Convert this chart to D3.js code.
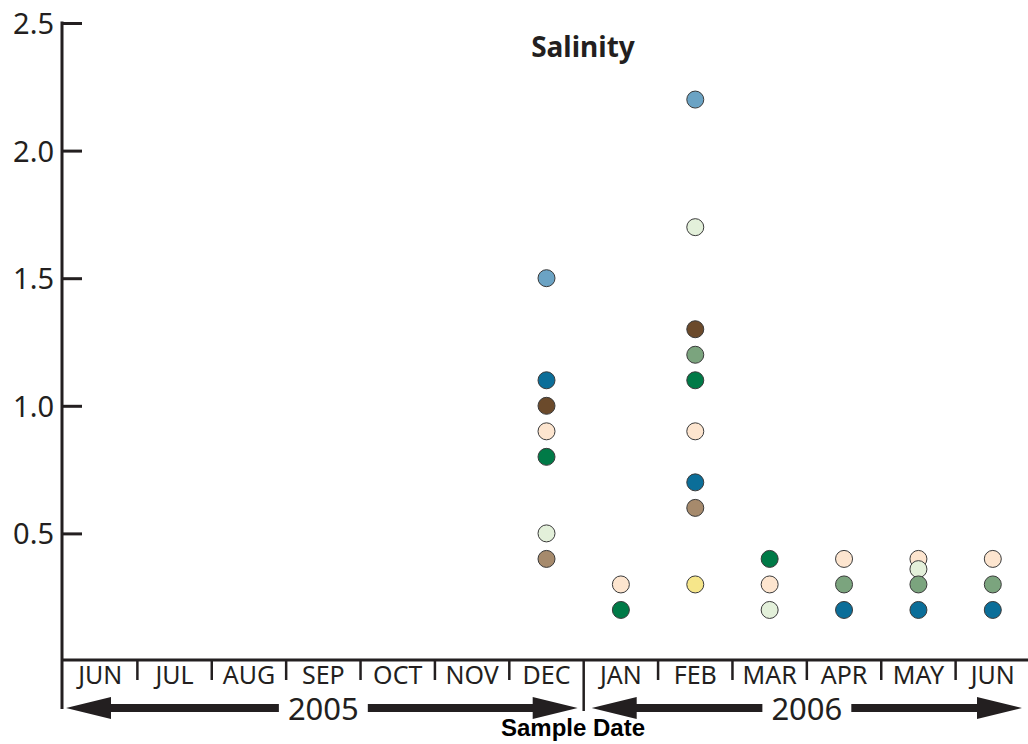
<!DOCTYPE html>
<html>
<head>
<meta charset="utf-8">
<script src="https://cdn.jsdelivr.net/npm/d3@7"></script>
<style>
  body { margin: 0; background: #fff; }
  text { fill: #231f20; }
</style>
</head>
<body>
<div id="chart"></div>
<script>
// month keys (unique) and the label shown under each
var months = ["JUN05", "JUL05", "AUG05", "SEP05", "OCT05", "NOV05", "DEC05",
              "JAN06", "FEB06", "MAR06", "APR06", "MAY06", "JUN06"];
var monthLabels = ["JUN", "JUL", "AUG", "SEP", "OCT", "NOV", "DEC",
                   "JAN", "FEB", "MAR", "APR", "MAY", "JUN"];
var years = ["2005", "2006"];
var yearFirst = ["JUN05", "JAN06"];
var yearLast = ["DEC05", "JUN06"];
var yTicks = [0.5, 1.0, 1.5, 2.0, 2.5];

// salinity per sample site, one value per month (null = no sample)
var lightBlue = [null, null, null, null, null, null, 1.5, null, 2.2, null, null, null, null];
var darkBrown = [null, null, null, null, null, null, 1.0, null, 1.3, null, null, null, null];
var peach     = [null, null, null, null, null, null, 0.9, 0.3, 0.9, 0.3, 0.4, 0.4, 0.4];
var paleGreen = [null, null, null, null, null, null, 0.5, null, 1.7, 0.2, null, 0.36, null];
var sage      = [null, null, null, null, null, null, null, null, 1.2, null, 0.3, 0.3, 0.3];
var green     = [null, null, null, null, null, null, 0.8, 0.2, 1.1, 0.4, null, null, null];
var tealBlue  = [null, null, null, null, null, null, 1.1, null, 0.7, null, 0.2, 0.2, 0.2];
var tan       = [null, null, null, null, null, null, 0.4, null, 0.6, null, null, null, null];
var yellow    = [null, null, null, null, null, null, null, null, 0.3, null, null, null, null];

var series = [
  {values: lightBlue, color: "#6ba3c4"},
  {values: darkBrown, color: "#6b4a2b"},
  {values: peach,     color: "#fde5cf"},
  {values: paleGreen, color: "#e3f0da"},
  {values: sage,      color: "#7ba47e"},
  {values: green,     color: "#007a47"},
  {values: tealBlue,  color: "#0b6e99"},
  {values: tan,       color: "#a68a6c"},
  {values: yellow,    color: "#f6e68a"}
];

var width = 1028,
    height = 744,
    left = 62,
    axisY = 660;

var svg = d3.select("#chart").append("svg")
    .attr("width", width)
    .attr("height", height);

var x = d3.scaleBand()
    .domain(months)
    .range([left + 1, width + 2])
    .padding(0);

var y = d3.scaleLinear()
    .domain([0, 2.5])
    .range([661, 23]);

// title
svg.append("text")
    .attr("x", 583)
    .attr("y", 57)
    .attr("text-anchor", "middle")
    .style("font-family", "'Noto Sans', sans-serif")
    .style("font-weight", "bold")
    .style("font-size", "28px")
    .text("Salinity");

// y axis: ticks pointing inward, labels on the left
var yAxis = d3.axisLeft(y)
    .tickValues(yTicks)
    .tickSize(-20)
    .tickPadding(8)
    .tickFormat(d3.format(".1f"));

var gy = svg.append("g")
    .attr("transform", "translate(" + left + ",0)")
    .call(yAxis);

gy.select(".domain").remove();
gy.selectAll(".tick line")
    .attr("stroke", "#231f20")
    .attr("stroke-width", 3);
gy.selectAll(".tick text")
    .attr("dy", "0.36em")
    .style("font-family", "'Noto Sans', sans-serif")
    .style("font-size", "29px")
    .style("fill", "#231f20");

svg.append("line")
    .attr("x1", left).attr("x2", left)
    .attr("y1", y(2.5) - 1.5).attr("y2", 709)
    .attr("stroke", "#231f20")
    .attr("stroke-width", 3);

// x axis line
svg.append("line")
    .attr("x1", left).attr("x2", width)
    .attr("y1", axisY).attr("y2", axisY)
    .attr("stroke", "#231f20")
    .attr("stroke-width", 3);

// month dividers
svg.selectAll(".divider")
    .data(months.slice(1))
  .enter().append("line")
    .attr("class", "divider")
    .attr("x1", function(d) { return x(d); })
    .attr("x2", function(d) { return x(d); })
    .attr("y1", axisY)
    .attr("y2", function(d) { return yearFirst.indexOf(d) >= 0 ? 711 : 680; })
    .attr("stroke", "#231f20")
    .attr("stroke-width", 2.5);

// month labels
svg.selectAll(".month")
    .data(months)
  .enter().append("text")
    .attr("class", "month")
    .attr("x", function(d) { return x(d) + x.bandwidth() / 2; })
    .attr("y", 684)
    .attr("text-anchor", "middle")
    .style("font-family", "'Noto Sans', sans-serif")
    .style("font-size", "25px")
    .text(function(d, i) { return monthLabels[i]; });

// year arrows
var head = 45, half = 11, thick = 8, arrowY = 708;

years.forEach(function(yr, i) {
  var x0 = x(yearFirst[i]) + (i === 0 ? 3 : 8),
      x1 = x(yearLast[i]) + x.bandwidth() - (i === 0 ? 6 : 8),
      cx = (x(yearFirst[i]) + x(yearLast[i]) + x.bandwidth()) / 2;

  var t = svg.append("text")
      .attr("x", cx)
      .attr("y", 720)
      .attr("text-anchor", "middle")
      .style("font-family", "'Noto Sans', sans-serif")
      .style("font-size", "31px")
      .text(yr);

  var w = t.node().getComputedTextLength() / 2 + 9;

  var path = d3.path();
  // left arrow
  path.moveTo(x0, arrowY);
  path.lineTo(x0 + head, arrowY - half);
  path.lineTo(x0 + head, arrowY - thick / 2);
  path.lineTo(cx - w, arrowY - thick / 2);
  path.lineTo(cx - w, arrowY + thick / 2);
  path.lineTo(x0 + head, arrowY + thick / 2);
  path.lineTo(x0 + head, arrowY + half);
  path.closePath();
  // right arrow
  path.moveTo(x1, arrowY);
  path.lineTo(x1 - head, arrowY - half);
  path.lineTo(x1 - head, arrowY - thick / 2);
  path.lineTo(cx + w, arrowY - thick / 2);
  path.lineTo(cx + w, arrowY + thick / 2);
  path.lineTo(x1 - head, arrowY + thick / 2);
  path.lineTo(x1 - head, arrowY + half);
  path.closePath();

  svg.append("path")
      .attr("d", path.toString())
      .attr("fill", "#231f20");
});

// x axis title
svg.append("text")
    .attr("x", 573)
    .attr("y", 736)
    .attr("text-anchor", "middle")
    .style("font-family", "'Liberation Sans', Arial, sans-serif")
    .style("font-weight", "bold")
    .style("font-size", "24px")
    .style("fill", "#000")
    .text("Sample Date");

// points
series.forEach(function(s) {
  var pts = months.map(function(m, i) { return {month: m, value: s.values[i]}; })
      .filter(function(d) { return d.value !== null; });

  svg.append("g").selectAll("circle")
      .data(pts)
    .enter().append("circle")
      .attr("cx", function(d) { return x(d.month) + x.bandwidth() / 2; })
      .attr("cy", function(d) { return y(d.value); })
      .attr("r", 8.5)
      .attr("fill", s.color)
      .attr("stroke", "#3a3a3a")
      .attr("stroke-width", 1);
});
</script>
</body>
</html>
